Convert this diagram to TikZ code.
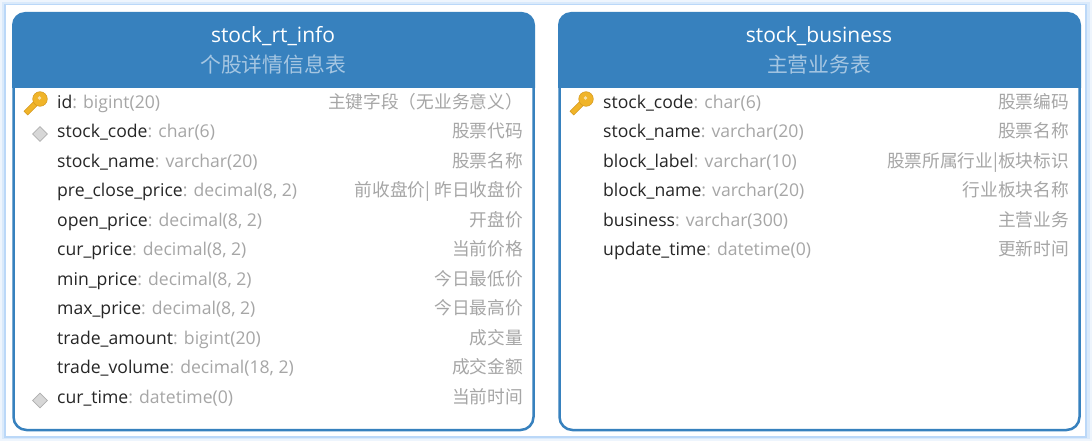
\documentclass[tikz,border=0pt]{standalone}
\usepackage{fontspec}
\setmainfont{Open Sans}
\newfontfamily\cjk{Noto Sans CJK SC}
\usetikzlibrary{shapes.geometric}
\definecolor{headblue}{HTML}{3781BE}
\definecolor{glowblue}{HTML}{BBD8F8}
\definecolor{keyyellow}{HTML}{F0B429}
\definecolor{keyedge}{HTML}{D4981E}
\definecolor{softgray}{HTML}{A6A6A6}
\definecolor{namegray}{HTML}{262626}
\tikzset{
  tableframe/.style={draw=headblue, line width=2.5pt, fill=white, rounded corners=13pt},
  tablehead/.style={fill=headblue},
  titlenode/.style={text=white, font=\fontsize{21}{24}\selectfont},
  subtitlenode/.style={text=white!55!headblue, font=\fontsize{20.8}{24}\cjk\selectfont},
  fieldnode/.style={anchor=base west, inner sep=0pt, text=namegray, font=\fontsize{17.6}{20}\selectfont},
  commentnode/.style={anchor=base east, inner sep=0pt, text=softgray, font=\fontsize{17.7}{20}\cjk\selectfont},
  indexmark/.style={diamond, draw=softgray!90, fill=softgray!45, line width=0.8pt, minimum size=15pt, inner sep=0pt},
  keyshape/.style={fill=keyyellow, draw=keyedge, line width=0.5pt}
}
\newcommand{\fieldtype}[1]{\textcolor{softgray}{: #1}}
\newcommand{\keyicon}[2]{%
  \begin{scope}[shift={(#1,#2)}]
    \draw[keyshape, rotate=-45] (-2.6,0) rectangle (2.6,20);
    \draw[keyshape] (0,0) circle (7.3);
    \fill[white!60!keyyellow] (-0.5,-1) circle (1.8);
  \end{scope}
}
\begin{document}
\begin{tikzpicture}[x=1pt,y=-1pt]
  \useasboundingbox (0,0) rectangle (1092,441);
  \fill[glowblue!25] (0,0) rectangle (1092,441);
  \fill[glowblue!55] (2,2) rectangle (1090,439);
  \fill[glowblue] (4,4) rectangle (1087,438);
  \fill[white] (5.5,5.5) rectangle (1085,436);
  % left table
  \begin{scope}
    \draw[tableframe] (13.5,13.5) rectangle (533.5,430);
    \fill[tablehead] (12,88) [rounded corners=13pt] -- (12,12) -- (535,12) [sharp corners] -- (535,88) -- cycle;
    \node[titlenode] (rttitle) at (273,36.5) {stock\_rt\_info};
    \node[subtitlenode] (rtsub) at (273,64.5) {个股详情信息表};
    \foreach \i/\fname/\ftype/\fnote in {
      0/id/bigint(20)/主键字段（无业务意义）,
      1/stock\_code/char(6)/股票代码,
      2/stock\_name/varchar(20)/股票名称,
      3/pre\_close\_price/{decimal(8, 2)}/前收盘价| 昨日收盘价,
      4/open\_price/{decimal(8, 2)}/开盘价,
      5/cur\_price/{decimal(8, 2)}/当前价格,
      6/min\_price/{decimal(8, 2)}/今日最低价,
      7/max\_price/{decimal(8, 2)}/今日最高价,
      8/trade\_amount/bigint(20)/成交量,
      9/trade\_volume/{decimal(18, 2)}/成交金额,
      10/cur\_time/datetime(0)/当前时间}{
      \node[fieldnode] (rtf\i) at (57,108.4+29.5*\i) {\fname\fieldtype{\ftype}};
      \node[commentnode] (rtc\i) at (523,108.4+29.5*\i) {\fnote};
    }
    \keyicon{40}{99}
    \node[indexmark] (rtidxa) at (40,134) {};
    \node[indexmark] (rtidxb) at (40,400.5) {};
  \end{scope}
  % right table
  \begin{scope}
    \draw[tableframe] (559.5,13.5) rectangle (1079.5,430);
    \fill[tablehead] (558,88) [rounded corners=13pt] -- (558,12) -- (1081,12) [sharp corners] -- (1081,88) -- cycle;
    \node[titlenode] (bstitle) at (819,36.5) {stock\_business};
    \node[subtitlenode] (bssub) at (819,64.5) {主营业务表};
    \foreach \i/\fname/\ftype/\fnote in {
      0/stock\_code/char(6)/股票编码,
      1/stock\_name/varchar(20)/股票名称,
      2/block\_label/varchar(10)/股票所属行业|板块标识,
      3/block\_name/varchar(20)/行业板块名称,
      4/business/varchar(300)/主营业务,
      5/update\_time/datetime(0)/更新时间}{
      \node[fieldnode] (bsf\i) at (603,108.4+29.5*\i) {\fname\fieldtype{\ftype}};
      \node[commentnode] (bsc\i) at (1069,108.4+29.5*\i) {\fnote};
    }
    \keyicon{586}{99}
  \end{scope}
\end{tikzpicture}
\end{document}
